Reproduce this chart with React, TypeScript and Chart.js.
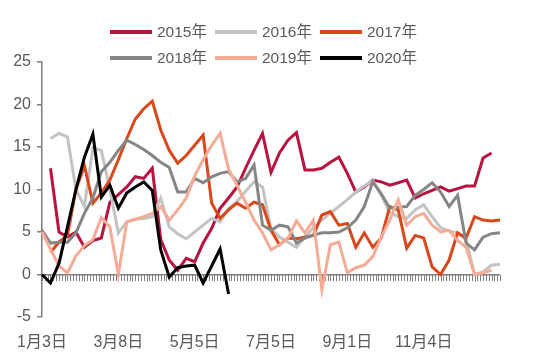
import React, { useEffect, useRef } from 'react';
import { Chart, registerables } from 'chart.js';

Chart.register(...registerables);

// ---- data ----
const tickLabels = ['1月3日', '3月8日', '5月5日', '7月5日', '9月1日', '11月4日'];
const LABEL_EVERY = 9;
const WEEKS = 55;
const MINOR_PER_WEEK = 3;

const seriesNames = ['2015年', '2016年', '2017年', '2018年', '2019年', '2020年'];
const seriesColors = ['#B8143F', '#C3C3C3', '#D9471A', '#858585', '#F5AB96', '#000000'];

const y2015 = [null, 12.5, 5.0, 4.4, 5.0, 3.2, 4.0, 4.3, 8.5, 9.4, 10.3, 11.5, 11.3, 12.5, 4.1, 1.7, 0.5, 1.9, 1.5, 3.7, 5.4, 7.8, 9.0, 10.3, 12.5, 14.6, 16.6, 12.0, 14.3, 15.8, 16.7, 12.3, 12.3, 12.5, 13.2, 13.8, 11.9, 9.7, 10.3, 11.1, 10.9, 10.5, 10.8, 11.1, 9.0, 9.5, 9.9, 10.3, 9.8, 10.1, 10.4, 10.4, 13.7, 14.3, null];
const y2016 = [null, 16.0, 16.6, 16.2, 10.0, 8.0, 14.9, 14.6, 10.0, 4.9, 6.2, 6.5, 6.6, 6.8, 9.0, 5.6, 4.8, 4.2, 5.0, 5.8, 6.6, 6.2, 7.8, 8.6, 9.8, 10.9, 10.3, 5.4, 4.4, 3.8, 3.2, 4.4, 5.5, 6.4, 7.2, 8.0, 8.8, 9.7, 10.4, 11.1, 9.3, 7.3, 6.8, 6.6, 7.6, 8.2, 6.8, 5.5, 5.1, 4.9, 4.1, 0.0, 0.3, 1.1, 1.2];
const y2017 = [null, 2.6, 3.8, 4.6, 10.0, 12.8, 8.4, 9.6, 11.1, 13.5, 16.0, 18.3, 19.5, 20.4, 17.0, 14.6, 13.1, 14.0, 15.2, 16.4, 8.4, 6.6, 7.6, 8.4, 7.8, 8.5, 8.2, 5.2, 3.5, 4.3, 4.2, 4.4, 4.6, 7.0, 7.4, 5.8, 6.0, 3.2, 4.9, 3.2, 4.3, 8.0, 7.6, 3.1, 4.6, 4.3, 0.9, 0.0, 1.7, 4.9, 4.3, 6.8, 6.4, 6.3, 6.4];
const y2018 = [5.2, 3.7, 3.8, 3.8, 4.9, 7.2, 9.0, 12.1, 13.2, 14.6, 15.8, 15.3, 14.7, 14.0, 13.2, 12.6, 9.7, 9.7, 11.3, 10.8, 11.5, 11.9, 12.1, 10.9, 11.3, 12.9, 5.8, 5.2, 5.8, 5.6, 3.7, 4.3, 4.6, 4.9, 4.9, 5.0, 5.5, 6.4, 8.0, 10.9, 9.5, 7.8, 7.9, 8.0, 9.3, 10.0, 10.8, 9.7, 8.0, 9.3, 3.7, 2.9, 4.4, 4.8, 4.9];
const y2019 = [5.0, 3.0, 1.0, 0.2, 2.2, 3.4, 4.1, 6.7, 5.6, 0.0, 6.2, 6.5, 6.8, 7.2, 8.0, 6.4, 7.6, 9.0, 11.6, 13.5, 15.2, 16.6, 12.4, 10.5, 8.5, 6.4, 4.9, 2.9, 3.5, 4.3, 6.3, 4.9, 6.4, -1.8, 3.5, 3.8, 0.2, 0.8, 1.1, 2.1, 4.4, 6.4, 8.8, 5.8, 6.8, 7.2, 5.8, 5.0, 5.2, 4.0, 3.2, 0.0, 0.2, 0.5, null];
const y2020 = [0.0, -1.0, 1.3, 5.6, 10.0, 13.8, 16.5, 9.1, 10.5, 7.8, 9.6, 10.3, 10.9, 9.9, 2.9, -0.3, 0.8, 1.0, 1.1, -1.0, 1.0, 3.0, -2.3];

const seriesValues = [y2015, y2016, y2017, y2018, y2019, y2020];

const yMin = -5;
const yMax = 25;
const yStep = 5;

// ---- derived ----
const categories = Array.from({ length: WEEKS }, (_, i) =>
  i % LABEL_EVERY === 0 && tickLabels[i / LABEL_EVERY] !== undefined ? tickLabels[i / LABEL_EVERY] : ''
);

const FONT_FAMILY = '"Liberation Sans", Arial, "Noto Sans CJK SC", sans-serif';
const TEXT_COLOR = '#595959';
const AXIS_COLOR = '#7F7F7F';

// Legend (2 rows x 3 columns) and dense minor tick marks under the y = 0 axis line
const decorPlugin = {
  id: 'decor',
  afterDraw(chart: any) {
    const ctx = chart.ctx as CanvasRenderingContext2D;
    const area = chart.chartArea;
    let y0 = chart.scales.y ? chart.scales.y.getPixelForValue(0) : NaN;
    if (!Number.isFinite(y0)) {
      y0 = area.bottom - (area.bottom - area.top) * ((0 - yMin) / (yMax - yMin));
    }
    y0 = Math.round(y0);
    const left = area.left;
    const right = area.right;
    const n = (WEEKS - 1) * MINOR_PER_WEEK;
    const step = (right - left) / n;
    ctx.save();
    ctx.globalCompositeOperation = 'destination-over';
    ctx.fillStyle = AXIS_COLOR;
    for (let i = 0; i <= n; i++) {
      ctx.fillRect(Math.round(left + i * step), y0, 1, 6);
    }
    ctx.restore();

    ctx.save();
    chart.data.datasets.forEach((ds: any, i: number) => {
      const col = i % 3;
      const row = Math.floor(i / 3);
      const x = 110 + col * 105;
      const y = 32 + row * 26;
      ctx.fillStyle = ds.borderColor;
      ctx.fillRect(x, y - 2, 42, 4);
      ctx.fillStyle = TEXT_COLOR;
      ctx.font = `15.5px ${FONT_FAMILY}`;
      ctx.textBaseline = 'middle';
      ctx.textAlign = 'left';
      ctx.fillText(ds.label, x + 47, y + 1);
    });
    ctx.restore();
  },
};

export default function App() {
  const canvasRef = useRef<HTMLCanvasElement | null>(null);

  useEffect(() => {
    if (!canvasRef.current) return;
    const chart = new Chart(canvasRef.current, {
      type: 'line',
      data: {
        labels: categories,
        datasets: seriesNames.map((name, i) => ({
          label: name,
          data: seriesValues[i],
          borderColor: seriesColors[i],
          backgroundColor: seriesColors[i],
          borderWidth: 3,
          pointRadius: 0,
          tension: 0,
          fill: false,
          order: seriesNames.length - 1 - i,
        })),
      },
      options: {
        animation: false,
        responsive: true,
        maintainAspectRatio: false,
        layout: { padding: { left: 8, top: 62, right: 50, bottom: 0 } },
        plugins: {
          legend: { display: false },
          tooltip: { enabled: false },
        },
        scales: {
          x: {
            type: 'category',
            position: 'bottom',
            grid: { display: false },
            border: { display: false },
            ticks: {
              autoSkip: false,
              maxRotation: 0,
              minRotation: 0,
              padding: 8,
              color: TEXT_COLOR,
              font: { family: FONT_FAMILY, size: 16 },
            },
            afterFit: (s: any) => {
              s.height = 43;
            },
          },
          y: {
            min: yMin,
            max: yMax,
            ticks: {
              stepSize: yStep,
              padding: 6,
              color: TEXT_COLOR,
              font: { family: FONT_FAMILY, size: 16 },
            },
            grid: {
              drawOnChartArea: true,
              drawTicks: true,
              tickLength: 5,
              color: (c: any) => (c.tick && c.tick.value === 0 ? AXIS_COLOR : 'rgba(0,0,0,0)'),
              tickColor: AXIS_COLOR,
              lineWidth: 1.5,
            },
            border: { display: true, color: AXIS_COLOR, width: 1.5 },
            afterFit: (s: any) => {
              s.width = 34;
            },
          },
        } as any,
      },
      plugins: [decorPlugin],
    });
    return () => chart.destroy();
  }, []);

  return (
    <div style={{ position: 'absolute', left: 0, top: 0, width: 550, height: 360 }}>
      <canvas ref={canvasRef} />
    </div>
  );
}
